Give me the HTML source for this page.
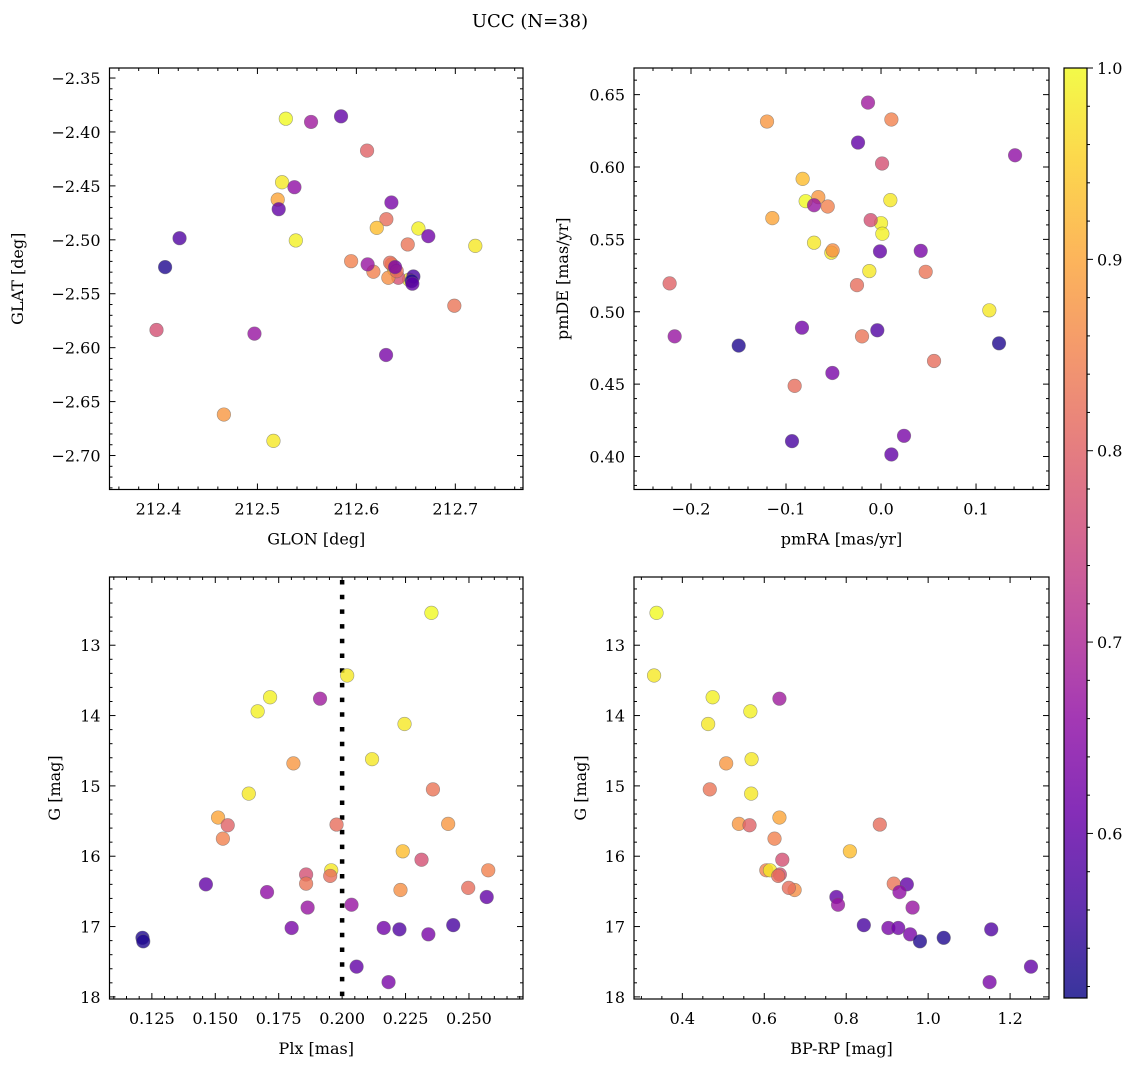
<!DOCTYPE html>
<html><head><meta charset="utf-8">
<style>
html,body{margin:0;padding:0;background:#fff;}
svg text{font-family:"DejaVu Serif","Liberation Serif",serif;fill:#000;}
</style></head>
<body>
<svg id="fig" width="1136" height="1067" viewBox="0 0 1136 1067" xmlns="http://www.w3.org/2000/svg">
<rect width="1136" height="1067" fill="#fff"/>
<text x="530" y="27" font-size="18" text-anchor="middle">UCC (N=38)</text>
</svg>
<script>
// ---- data (38 stars) ----
const prob = [1.0,0.98,0.99,0.68,0.99,0.98,0.98,0.88,0.98,0.83,0.9,0.88,0.8,0.82,0.85,0.93,0.77,0.85,0.98,0.77,0.82,0.83,0.6,0.66,0.87,0.82,0.6,0.67,0.67,0.63,0.62,0.58,0.63,0.57,0.53,0.53,0.6,0.63];
const plx = [0.2352,0.2020,0.1716,0.1913,0.1667,0.2246,0.2118,0.1808,0.1632,0.2358,0.1511,0.2418,0.1549,0.1978,0.1530,0.2239,0.2313,0.2576,0.1957,0.1858,0.1953,0.1858,0.1463,0.1704,0.2230,0.2497,0.2570,0.1864,0.2037,0.1801,0.2164,0.2226,0.2340,0.2438,0.1213,0.1216,0.2057,0.2183];
const gmag = [12.54,13.43,13.74,13.76,13.94,14.12,14.62,14.68,15.11,15.05,15.45,15.54,15.56,15.55,15.75,15.93,16.05,16.20,16.20,16.26,16.28,16.39,16.40,16.51,16.48,16.45,16.58,16.73,16.69,17.02,17.02,17.04,17.11,16.98,17.16,17.21,17.57,17.79];
const bprp = [0.337,0.331,0.474,0.637,0.566,0.463,0.569,0.507,0.568,0.467,0.637,0.538,0.564,0.882,0.625,0.809,0.644,0.605,0.614,0.638,0.634,0.916,0.948,0.930,0.674,0.660,0.776,0.962,0.780,0.903,0.927,1.154,0.956,0.843,1.038,0.980,1.251,1.150];
const glon = [212.5287,212.5249,212.6627,212.5542,212.5388,212.7202,212.6381,212.4661,212.6533,212.6990,212.5205,212.6357,212.6108,212.6303,212.5947,212.6206,212.6424,212.6172,212.5162,212.3980,212.6341,212.6519,212.5845,212.5374,212.6323,212.6408,212.5215,212.6114,212.4970,212.6354,212.6727,212.4213,212.6391,212.6576,212.4067,212.6559,212.6566,212.6300];
const glat = [-2.3877,-2.4466,-2.4895,-2.3907,-2.5006,-2.5056,-2.5275,-2.6620,-2.5370,-2.5611,-2.4627,-2.5228,-2.4173,-2.4809,-2.5198,-2.4889,-2.5352,-2.5296,-2.6864,-2.5836,-2.5213,-2.5043,-2.3855,-2.4512,-2.5352,-2.5290,-2.4716,-2.5228,-2.5870,-2.4654,-2.4966,-2.4985,-2.5253,-2.5340,-2.5253,-2.5383,-2.5407,-2.6068];
const pmra = [-0.0793,0.0098,0.0,-0.0137,0.0014,-0.0705,-0.0523,-0.1200,-0.0123,0.0470,-0.1144,-0.0660,-0.2225,-0.0253,-0.0561,-0.0825,0.0011,0.0109,0.1140,-0.0109,0.0558,-0.0200,-0.0242,0.1411,-0.0509,-0.0909,-0.0011,-0.0705,-0.2172,0.0418,-0.0832,-0.0039,-0.0512,-0.0937,-0.1498,0.1242,0.0109,0.0242];
const pmde = [0.5764,0.5771,0.5612,0.6445,0.5539,0.5477,0.5408,0.6314,0.5281,0.5276,0.5647,0.5792,0.5196,0.5184,0.5727,0.5918,0.6024,0.6328,0.5010,0.5633,0.4660,0.4830,0.6169,0.6081,0.5424,0.4488,0.5417,0.5736,0.4830,0.5421,0.4890,0.4872,0.4577,0.4106,0.4766,0.4782,0.4014,0.4143];
// ---- tick arrays ----
const glonTicks = [212.4,212.5,212.6,212.7];
const glatTicks = [-2.35,-2.40,-2.45,-2.50,-2.55,-2.60,-2.65,-2.70];
const pmraTicks = [-0.2,-0.1,0.0,0.1];
const pmdeTicks = [0.40,0.45,0.50,0.55,0.60,0.65];
const plxTicks = [0.125,0.150,0.175,0.200,0.225,0.250];
const gTicks = [13,14,15,16,17,18];
const bprpTicks = [0.4,0.6,0.8,1.0,1.2];
const cbarTicks = [0.6,0.7,0.8,0.9,1.0];
const plxCut = 0.200;
const vmin = 0.514, vmax = 1.0;

const NS = "http://www.w3.org/2000/svg";
const svg = document.getElementById('fig');
function mk(tag, attrs, parent){
  const e = document.createElementNS(NS, tag);
  for (const k in attrs) e.setAttribute(k, attrs[k]);
  (parent||svg).appendChild(e);
  return e;
}
const plasma = ["#0d0887","#41049d","#6a00a8","#8f0da4","#b12a90","#cc4778","#e16462","#f2844b","#fca636","#fcce25","#f0f921"];
function hex(h){return [parseInt(h.substr(1,2),16),parseInt(h.substr(3,2),16),parseInt(h.substr(5,2),16)];}
function cmap(v){
  let t=(v-vmin)/(vmax-vmin); t=Math.max(0,Math.min(1,t));
  const f=t*10, i=Math.min(9,Math.floor(f)), r=f-i;
  const a=hex(plasma[i]), b=hex(plasma[i+1]);
  return "rgb("+a.map((c,k)=>Math.round(c+(b[k]-c)*r)).join(",")+")";
}
function fmt(v,d){ const s=Math.abs(v).toFixed(d); return (v<-1e-9?"\u2212":"")+s; }

function panel(o){
  const g = mk('g',{});
  
  
  const sx = v => o.x0 + (v-o.xmin)/(o.xmax-o.xmin)*(o.x1-o.x0);
  const sy = v => o.y1 - (v-o.ymin)/(o.ymax-o.ymin)*(o.y1-o.y0);
  const lo=Math.min(o.xmin,o.xmax), hi=Math.max(o.xmin,o.xmax);
  for (let v=Math.ceil(lo/o.xminor-1e-6)*o.xminor; v<=hi+1e-9; v+=o.xminor){
    const X=sx(v); const maj=o.xt.some(t=>Math.abs(t-v)<o.xminor/3);
    const L=maj?6:3;
    mk('line',{x1:X,x2:X,y1:o.y1,y2:o.y1-L,stroke:'#000','stroke-width':1},g);
    mk('line',{x1:X,x2:X,y1:o.y0,y2:o.y0+L,stroke:'#000','stroke-width':1},g);
  }
  const ylo=Math.min(o.ymin,o.ymax), yhi=Math.max(o.ymin,o.ymax);
  for (let v=Math.ceil(ylo/o.yminor-1e-6)*o.yminor; v<=yhi+1e-9; v+=o.yminor){
    const Y=sy(v); const maj=o.yt.some(t=>Math.abs(t-v)<o.yminor/3);
    const L=maj?6:3;
    mk('line',{x1:o.x0,x2:o.x0+L,y1:Y,y2:Y,stroke:'#000','stroke-width':1},g);
    mk('line',{x1:o.x1,x2:o.x1-L,y1:Y,y2:Y,stroke:'#000','stroke-width':1},g);
  }
  o.xt.forEach(t=>{
    const e=mk('text',{x:sx(t),y:o.y1+25,'font-size':16,'text-anchor':'middle'},g);
    
    
    e.textContent=fmt(t,o.xd);
  });
  o.yt.forEach(t=>{
    const e=mk('text',{x:o.x0-9,y:sy(t)+6,'font-size':16,'text-anchor':'end'},g);
    
    
    e.textContent=fmt(o.yflip ? -t : t,o.yd);
  });
  const xl=mk('text',{x:(o.x0+o.x1)/2,y:o.y1+55,'font-size':16,'text-anchor':'middle'},g);
  
  
  xl.textContent=o.xlabel;
  const yl=mk('text',{x:0,y:0,'font-size':16,'text-anchor':'middle',transform:`translate(${o.ylx},${(o.y0+o.y1)/2}) rotate(-90)`},g);
  
  
  yl.textContent=o.ylabel;
  if (o.vline!==undefined){
    const l=mk('line',{x1:sx(o.vline),x2:sx(o.vline),y1:o.y0+3,y2:o.y1,stroke:'#000','stroke-width':4.5,'stroke-dasharray':'4.5 10.2'},g);
    
    
  }
  for (let i=0;i<o.xs.length;i++){
    const c=mk('circle',{cx:sx(o.xs[i]),cy:sy(o.ys[i]),r:6.8,fill:cmap(prob[i]),'fill-opacity':0.8,stroke:'#666','stroke-opacity':0.6,'stroke-width':0.6},g);
    
    
  }
  const fr=mk('rect',{x:o.x0,y:o.y0,width:o.x1-o.x0,height:o.y1-o.y0,fill:'none',stroke:'#000','stroke-width':1.2},g);
  
  
}

panel({name:'glon-glat-panel',x0:109.5,x1:523,y0:68,y1:489.5,xmin:212.3505,xmax:212.7684,ymin:-2.7315,ymax:-2.3407,
  xt:glonTicks,yt:glatTicks,xminor:0.02,yminor:0.01,xd:1,yd:2,xs:glon,ys:glat,xlabel:'GLON [deg]',ylabel:'GLAT [deg]',ylx:23});
panel({name:'pm-panel',x0:634,x1:1049,y0:68,y1:489.5,xmin:-0.260,xmax:0.1768,ymin:0.3772,ymax:0.6684,
  xt:pmraTicks,yt:pmdeTicks,xminor:0.02,yminor:0.01,xd:1,yd:2,xs:pmra,ys:pmde,xlabel:'pmRA [mas/yr]',ylabel:'pmDE [mas/yr]',ylx:568});
panel({name:'plx-g-panel',x0:109.5,x1:523,y0:577,y1:999,xmin:0.1083,xmax:0.2713,ymin:-18.03,ymax:-12.03,yflip:true,
  xt:plxTicks,yt:gTicks.map(v=>-v),xminor:0.005,yminor:0.2,xd:3,yd:0,xs:plx,ys:gmag.map(v=>-v),xlabel:'Plx [mas]',ylabel:'G [mag]',ylx:60,vline:plxCut});
panel({name:'cmd-panel',x0:634,x1:1049,y0:577,y1:999,xmin:0.282,xmax:1.295,ymin:-18.03,ymax:-12.03,yflip:true,
  xt:bprpTicks,yt:gTicks.map(v=>-v),xminor:0.05,yminor:0.2,xd:1,yd:0,xs:bprp,ys:gmag.map(v=>-v),xlabel:'BP-RP [mag]',ylabel:'G [mag]',ylx:586});

// colorbar
(function(){
  const cx0=1064,cx1=1087,cy0=68,cy1=998;
  const g=mk('g',{});
  
  
  const defs=mk('defs',{},g);
  const lg=mk('linearGradient',{id:'pl',x1:0,y1:1,x2:0,y2:0},defs);
  for(let k=0;k<=20;k++){ const v=vmin+(vmax-vmin)*k/20; mk('stop',{offset:(k/20),'stop-color':cmap(v),'stop-opacity':0.82},lg); }
  mk('rect',{x:cx0,y:cy0,width:cx1-cx0,height:cy1-cy0,fill:'url(#pl)',stroke:'#000','stroke-width':1.2},g);
  const sy=v=>cy1-(v-vmin)/(vmax-vmin)*(cy1-cy0);
  for(let v=0.52; v<=1.0001; v+=0.02){
    const maj=cbarTicks.some(t=>Math.abs(t-v)<0.005);
    mk('line',{x1:cx1,x2:cx1+(maj?6:3),y1:sy(v),y2:sy(v),stroke:'#000','stroke-width':1},g);
  }
  cbarTicks.forEach(t=>{
    const e=mk('text',{x:cx1+10,y:sy(t)+6,'font-size':16},g);
    
    
    e.textContent=t.toFixed(1);
  });
})();
</script>
</body></html>
